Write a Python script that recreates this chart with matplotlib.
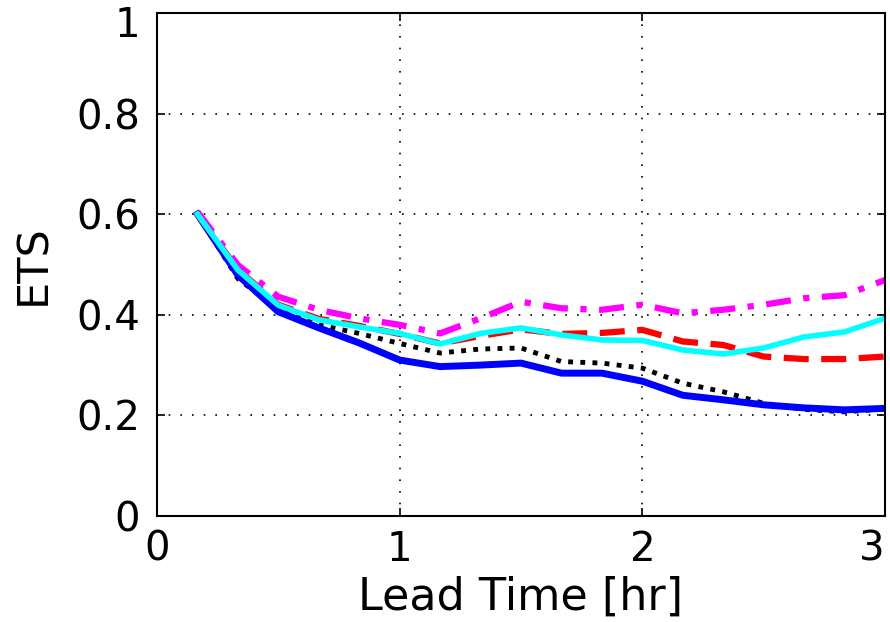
import matplotlib
matplotlib.use('Agg')
import matplotlib.pyplot as plt
import matplotlib.transforms as mtransforms
import numpy as np

# lead times, 10-minute steps
lead = [1/6, 2/6, 3/6, 4/6, 5/6, 1.0, 7/6, 8/6, 1.5, 10/6, 11/6, 2.0,
        13/6, 14/6, 2.5, 16/6, 17/6, 3.0]

blue = [0.60, 0.479, 0.406, 0.374, 0.344, 0.310, 0.297, 0.300, 0.304,
        0.284, 0.284, 0.268, 0.240, 0.231, 0.221, 0.215, 0.211, 0.214]
cyan = [0.60, 0.489, 0.419, 0.390, 0.376, 0.363, 0.342, 0.363, 0.374,
        0.360, 0.350, 0.349, 0.330, 0.322, 0.334, 0.356, 0.366, 0.393]
red = [0.60, 0.490, 0.420, 0.392, 0.378, 0.362, 0.343, 0.358, 0.371,
       0.362, 0.364, 0.370, 0.347, 0.340, 0.317, 0.312, 0.312, 0.317]
black = [0.60, 0.472, 0.410, 0.380, 0.363, 0.343, 0.324, 0.332, 0.334,
         0.307, 0.304, 0.294, 0.264, 0.247, 0.224, 0.212, 0.207, 0.213]
magenta = [0.605, 0.499, 0.436, 0.410, 0.393, 0.380, 0.363, 0.393, 0.426,
           0.413, 0.410, 0.420, 0.403, 0.410, 0.420, 0.433, 0.439, 0.469]

xticks = [0, 1, 2, 3]
yticks = [0, 0.2, 0.4, 0.6, 0.8, 1]
yticklabels = ['0', '0.2', '0.4', '0.6', '0.8', '1']

plt.rcParams['font.family'] = ['DejaVu Sans']

fig = plt.figure(figsize=(8.9, 6.22), dpi=100)
ax = fig.add_axes([157/890, 1 - 516/622, (885-157)/890, (516-13)/622])

ax.plot(lead, black, color='black', linestyle=(0, (1, 1.5)), linewidth=3.5)
ax.plot(lead, blue, color='#0000ff', linestyle='-', linewidth=5)
ax.plot(lead, red, color='#ff0000', linestyle=(0, (4, 2)), linewidth=4.5)
ax.plot(lead, magenta, color='#ff00ff', linestyle=(0, (4, 2, 1, 2)), linewidth=4.5)
ax.plot(lead, cyan, color='#00ffff', linestyle='-', linewidth=4)

ax.set_xlim(0, 3)
ax.set_ylim(0, 1)
ax.set_xticks(xticks)
ax.set_xticklabels([str(t) for t in xticks])
ax.set_yticks(yticks)
ax.set_yticklabels(yticklabels)
ax.grid(True, color='black', linestyle=(0, (1, 6)), linewidth=1.2)
ax.tick_params(direction='in', top=True, right=True, length=6, width=1.2,
               labelsize=29)
ax.tick_params(axis='x', pad=10)
ax.tick_params(axis='y', pad=12)
ax.get_xticklabels()[-1].set_horizontalalignment('right')
# nudge the top "1" down so it stays inside the figure
top_lbl = ax.get_yticklabels()[-1]
top_lbl.set_transform(top_lbl.get_transform() +
                      mtransforms.ScaledTranslation(0, -6/72, fig.dpi_scale_trans))
for sp in ax.spines.values():
    sp.set_linewidth(1.5)

ax.set_xlabel('Lead Time [hr]', fontsize=32, labelpad=4)
ax.set_ylabel('ETS', fontsize=31, labelpad=16)

fig.savefig('out.png', dpi=100)
